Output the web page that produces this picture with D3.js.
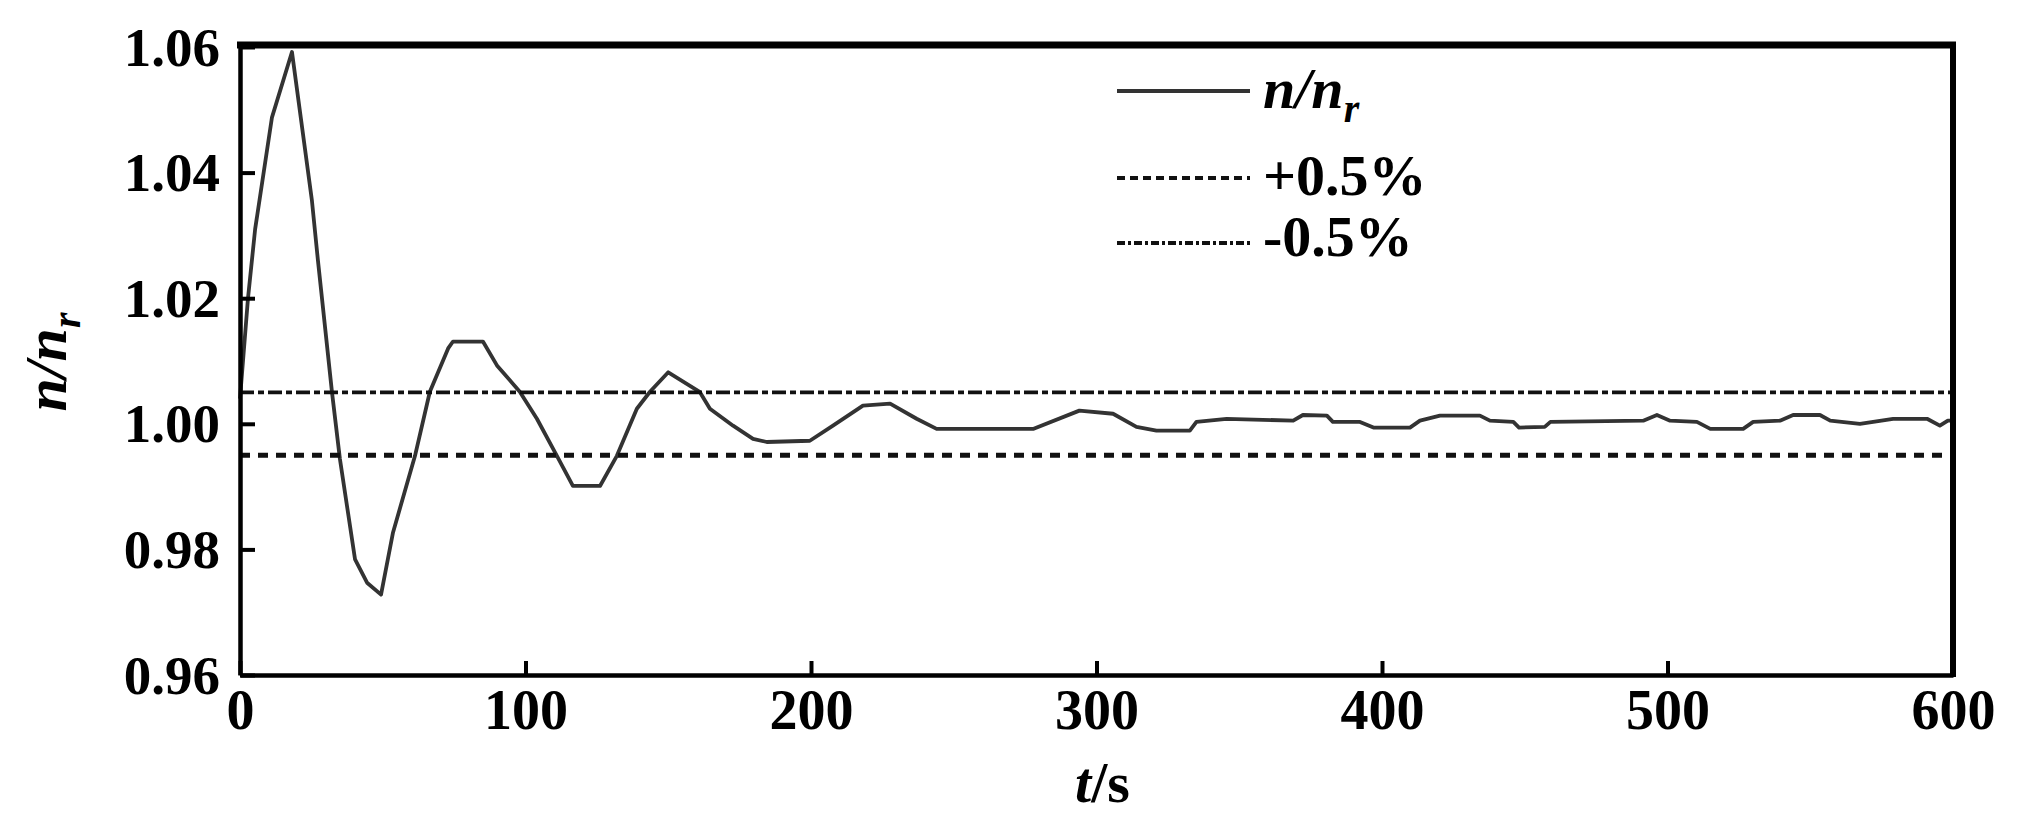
<!DOCTYPE html>
<html>
<head>
<meta charset="utf-8">
<script src="https://cdn.jsdelivr.net/npm/d3@7"></script>
<style>
  html, body { margin: 0; padding: 0; background: #fff; }
  svg { display: block; }
  text { font-family: "Liberation Serif", "Times New Roman", serif; fill: #000; }
</style>
</head>
<body>
<svg id="chart" width="2022" height="837"></svg>
<script>
// ---- data ----
const timeS = [0, 2.8, 5.3, 11.2, 18.2, 25.2, 27.3, 32.2, 35, 40.3, 44.5, 49.4, 53.6, 61.3, 66.5, 72.9,
  74.6, 85.1, 90, 98, 104, 111, 116.6, 126.1, 132, 139, 143.6, 150, 161, 164.6, 172.7, 179.7, 184.5,
  199.6, 207.7, 218.2, 227.7, 237, 244, 278, 294, 305.8, 314, 321, 332.7, 335, 345.6, 368.9, 372.3,
  380.7, 382.8, 392.3, 397, 409.8, 413.3, 420.3, 434.3, 437.8, 446, 448, 457, 459, 491.5, 496.3,
  500.9, 510.3, 515, 526.5, 530, 539.4, 544, 553.4, 557, 567.4, 579, 590.9, 595.4, 598.2, 600];
const speedRatio = [1.004, 1.020, 1.031, 1.0488, 1.0592, 1.0355, 1.026, 1.0051, 0.9944, 0.9784, 0.9747,
  0.9728, 0.9827, 0.9949, 1.0051, 1.012, 1.0131, 1.0131, 1.0093, 1.0051, 1.0008, 0.9949, 0.9901,
  0.9901, 0.9949, 1.0024, 1.0051, 1.0082, 1.0051, 1.0024, 0.9997, 0.9976, 0.9971, 0.9973, 0.9997,
  1.0029, 1.0032, 1.0008, 0.9992, 0.9992, 1.0021, 1.0016, 0.9995, 0.9989, 0.9989, 1.0003, 1.0008,
  1.0005, 1.0014, 1.0013, 1.0003, 1.0003, 0.9994, 0.9994, 1.0005, 1.0013, 1.0013, 1.0005, 1.0003,
  0.9994, 0.9995, 1.0003, 1.0005, 1.0014, 1.0005, 1.0003, 0.9992, 0.9992, 1.0003, 1.0005, 1.0014,
  1.0014, 1.0005, 1.000, 1.0008, 1.0008, 0.9997, 1.0005, 1.0005];
const upperBand = [[0, 1.005], [600, 1.005]];
const lowerBand = [[0, 0.995], [600, 0.995]];
const xTicks = [0, 100, 200, 300, 400, 500, 600];
const yTicks = [0.96, 0.98, 1.00, 1.02, 1.04, 1.06];
const legendLabels = ["n/n_r", "+0.5%", "-0.5%"];

// ---- layout ----
const svg = d3.select("#chart");
const x = d3.scaleLinear().domain([0, 600]).range([240, 1953]);
const y = d3.scaleLinear().domain([0.96, 1.06]).range([675, 47]);

const line = d3.line().x(d => x(d[0])).y(d => y(d[1]));

// curve
const series = timeS.map((t, i) => [t, speedRatio[i]]);
svg.append("path").datum(series)
  .attr("d", line).attr("fill", "none")
  .attr("stroke", "#333").attr("stroke-width", 3.8)
  .attr("stroke-linejoin", "round");

// bands
svg.append("path").datum(upperBand).attr("d", line)
  .attr("fill", "none").attr("stroke", "#111").attr("stroke-width", 3.8)
  .attr("stroke-dasharray", "14,4,6,4");
svg.append("path").datum(lowerBand).attr("d", line)
  .attr("fill", "none").attr("stroke", "#111").attr("stroke-width", 5)
  .attr("stroke-dasharray", "10,8");

// axes (inward ticks)
const yAxis = d3.axisLeft(y).tickValues(yTicks).tickSizeInner(-15).tickSizeOuter(0)
  .tickFormat(d3.format(".2f")).tickPadding(20);
const gy = svg.append("g").attr("transform", `translate(${x(0)},0)`).call(yAxis);
gy.select(".domain").attr("stroke-width", 4.5).attr("stroke", "#000");
gy.selectAll(".tick line").attr("stroke-width", 4).attr("stroke", "#000");
gy.selectAll(".tick text").attr("font-family", "Liberation Serif").attr("font-weight", "bold")
  .attr("font-size", 55).attr("fill", "#000").attr("dy", "0.33em");

const xAxis = d3.axisBottom(x).tickValues(xTicks).tickSizeInner(-14).tickSizeOuter(0)
  .tickFormat(d3.format("d")).tickPadding(14);
const gx = svg.append("g").attr("transform", `translate(0,${y(0.96)})`).call(xAxis);
gx.select(".domain").attr("stroke-width", 4.5).attr("stroke", "#000");
gx.selectAll(".tick line").attr("stroke-width", 4).attr("stroke", "#000");
gx.selectAll(".tick text").attr("font-family", "Liberation Serif").attr("font-weight", "bold")
  .attr("font-size", 56).attr("fill", "#000");

// frame top and right
svg.append("line").attr("x1", x(0) - 3).attr("x2", x(600) + 3)
  .attr("y1", y(1.06) - 2).attr("y2", y(1.06) - 2)
  .attr("stroke", "#000").attr("stroke-width", 7);
svg.append("line").attr("x1", x(600)).attr("x2", x(600))
  .attr("y1", y(1.06) - 5).attr("y2", y(0.96) + 2)
  .attr("stroke", "#000").attr("stroke-width", 6);

// axis titles
const yl = svg.append("text").attr("transform", "translate(66,362) rotate(-90)")
  .attr("text-anchor", "middle").attr("font-weight", "bold").attr("font-style", "italic")
  .attr("font-size", 60);
yl.append("tspan").text("n/n");
yl.append("tspan").text("r").attr("font-size", 40).attr("dy", 14);

const xl = svg.append("text").attr("x", x(300) + 6).attr("y", 802)
  .attr("text-anchor", "middle").attr("font-weight", "bold").attr("font-size", 58);
xl.append("tspan").text("t").attr("font-style", "italic");
xl.append("tspan").text("/s");

// legend
const legend = svg.append("g");
const legRows = [
  { yLine: 91, yText: 108, dash: null, w: 3.8, color: "#333" },
  { yLine: 178, yText: 195, dash: "8,5", w: 4, color: "#111" },
  { yLine: 243, yText: 256, dash: "8,3,3,3", w: 4, color: "#111" }
];
legRows.forEach((r, i) => {
  legend.append("line").attr("x1", 1117).attr("x2", 1250).attr("y1", r.yLine).attr("y2", r.yLine)
    .attr("stroke", r.color).attr("stroke-width", r.w)
    .attr("stroke-dasharray", r.dash);
  const t = legend.append("text").attr("x", 1263).attr("y", r.yText)
    .attr("font-size", 58).attr("font-weight", "bold");
  if (legendLabels[i] === "n/n_r") {
    t.attr("font-style", "italic");
    t.append("tspan").text("n/n");
    t.append("tspan").text("r").attr("font-size", 40).attr("dy", 14);
  } else {
    t.text(legendLabels[i]);
  }
});
</script>
</body>
</html>
